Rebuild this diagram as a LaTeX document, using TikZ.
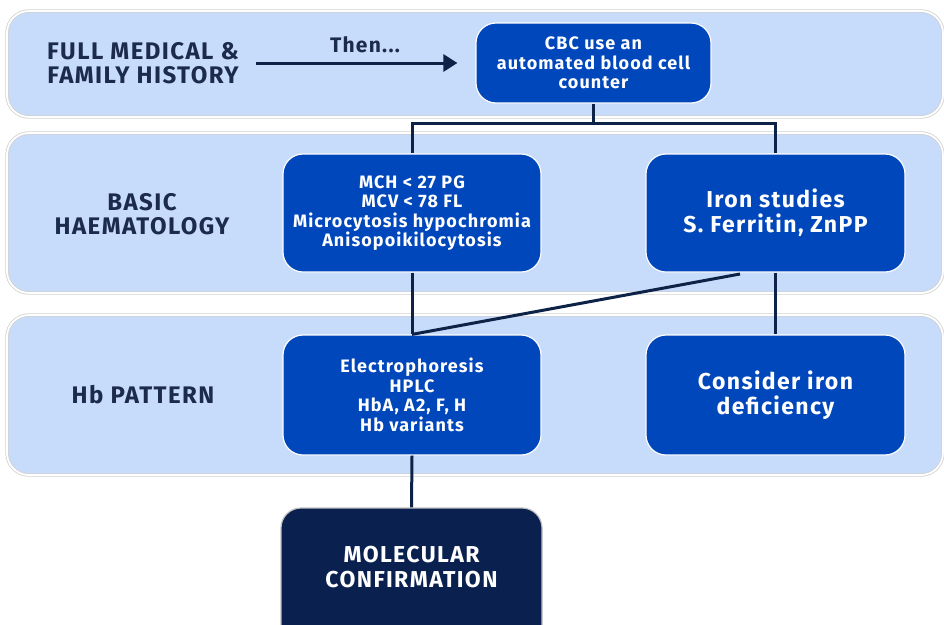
\documentclass[tikz,border=0pt]{standalone}
\usepackage{fontspec}
\setmainfont{Fira Sans}[LetterSpace=6]
\usetikzlibrary{arrows.meta}
\newlength{\du}
\setlength{\du}{1pt}
\definecolor{bandfill}{HTML}{C7DBFA}
\definecolor{boxblue}{HTML}{0047BB}
\definecolor{darknavy}{HTML}{0A2150}
\definecolor{linenavy}{HTML}{0D2247}
\definecolor{labelnavy}{HTML}{1C2B4B}
\tikzset{
  bandbox/.style={rectangle, rounded corners=22\du, fill=bandfill, draw=black!18,
    line width=0.8\du, double=white, double distance=1.8\du},
  stepbox/.style={rectangle, rounded corners=20\du, fill=boxblue, draw=white,
    line width=1.2\du, text=white, align=center, font=\bfseries\fontsize{18}{19.5}\selectfont},
  bigstep/.style={stepbox, font=\bfseries\fontsize{23}{25}\selectfont},
  darkstep/.style={bigstep, fill=darknavy, draw=black!25},
  rowlabel/.style={text=labelnavy, align=center, font=\bfseries\fontsize{24}{24}\selectfont},
  link/.style={draw=linenavy, line width=3\du, line join=miter}
}

\begin{document}
\begin{tikzpicture}
\pgftransformxscale{1.000000}
\pgftransformyscale{-1.000000}
\useasboundingbox (0\du,0\du) rectangle (944\du,624\du);
\clip (0\du,0\du) rectangle (944\du,624\du);
% bands
\node[bandbox, minimum width=936\du, minimum height=106\du] (band1) at (475\du,64\du) {};
\node[bandbox, minimum width=936\du, minimum height=160\du] (band2) at (475\du,213\du) {};
\node[bandbox, minimum width=936\du, minimum height=160\du] (band3) at (475\du,395\du) {};
% setfont left to latex
\node[rowlabel] (history) at (143\du,63\du) {FULL MEDICAL \&\\FAMILY HISTORY};
\node[rowlabel] (basic) at (142\du,214\du) {BASIC\\HAEMATOLOGY};
\node[rowlabel] (pattern) at (143\du,395\du) {Hb PATTERN};
% boxes
\node[stepbox, minimum width=235\du, minimum height=80\du] (cbc) at (593.5\du,63\du) {CBC use an\\automated blood cell\\counter};
\node[stepbox, minimum width=258\du, minimum height=118\du] (mch) at (412\du,213\du) {MCH < 27 PG\\MCV < 78 FL\\Microcytosis hypochromia\\Anisopoikilocytosis};
\node[bigstep, minimum width=259\du, minimum height=118\du] (iron) at (775.5\du,213\du) {Iron studies\\S. Ferritin, ZnPP};
\node[stepbox, minimum width=258\du, minimum height=120\du] (electro) at (412\du,395\du) {Electrophoresis\\HPLC\\HbA, A2, F, H\\Hb variants};
\node[bigstep, minimum width=259\du, minimum height=120\du] (consider) at (775.5\du,395\du) {Consider iron\\deficiency};
\node[darkstep, minimum width=261\du, minimum height=160\du, text depth=0pt] (molecular) at (411.5\du,588\du) {MOLECULAR\\CONFIRMATION\\[18\du]};
% connectors
\draw[link, -{Triangle[length=14pt,width=17pt]}, shorten <=14\du, shorten >=18\du]
  (history.east |- cbc.west) -- (cbc.west)
  node[midway, above=5\du, xshift=6\du, text=labelnavy, font=\bfseries\fontsize{21}{23}\selectfont] (then) {Then...};
\coordinate (fork) at (593.5\du,123\du);
\draw[link] (cbc.south) -- (fork);
\draw[link] (mch.north) |- (fork) -| (iron.north);
\draw[link] (mch.south) -- (electro.north);
\coordinate (ironfoot) at (740\du,274\du);
\draw[link] (ironfoot) -- (electro.north);
\draw[link] (iron.south) -- (consider.north);
\draw[link] (electro.south) -- (molecular.north);
\end{tikzpicture}
\end{document}
